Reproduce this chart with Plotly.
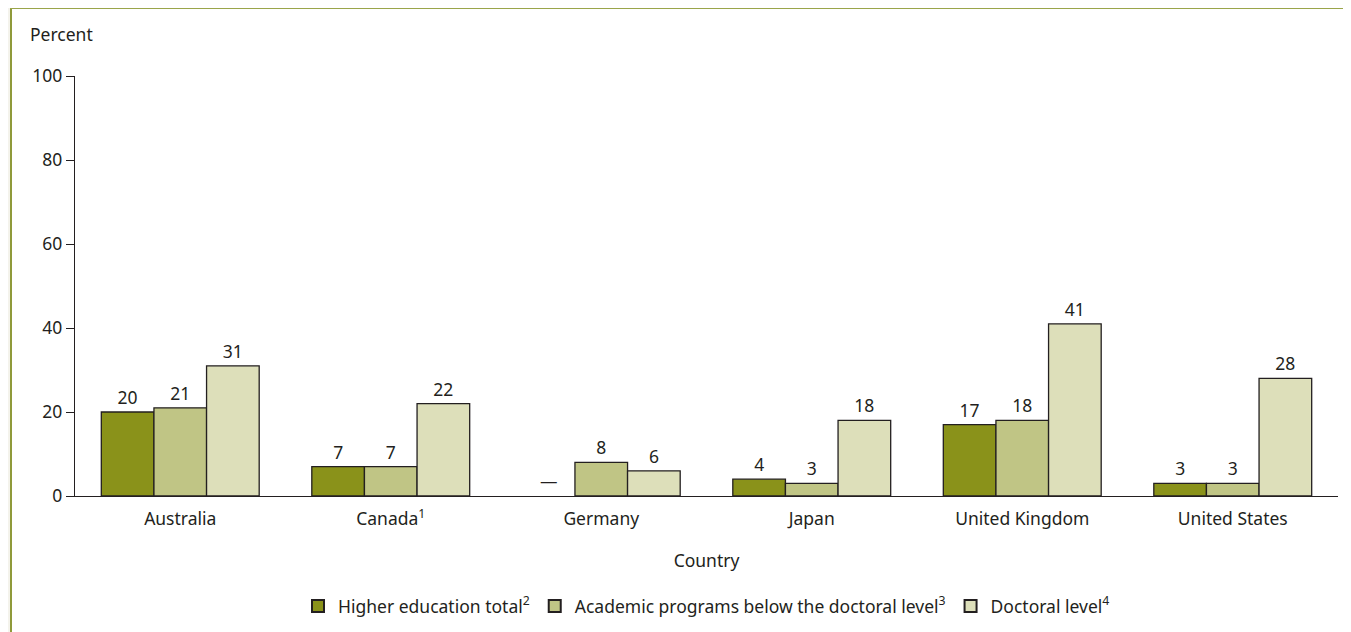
import plotly.graph_objects as go

countries = ["Australia", "Canada<sup>1</sup>", "Germany", "Japan", "United Kingdom", "United States"]
series_names = ["Higher education total<sup>2</sup>",
                "Academic programs below the doctoral level<sup>3</sup>",
                "Doctoral level<sup>4</sup>"]
higher_total = [20, 7, 0, 4, 17, 3]
higher_total_labels = ["20", "7", "—", "4", "17", "3"]
academic_below = [21, 7, 8, 3, 18, 3]
doctoral = [31, 22, 6, 18, 41, 28]
y_ticks = [0, 20, 40, 60, 80, 100]

colors = ["#8a921a", "#c0c585", "#dddfba"]
FONT = "Noto Sans"
TXT = "#231f20"
FS = 17.5

fig = go.Figure()
series = [
    (higher_total, higher_total_labels),
    (academic_below, [str(v) for v in academic_below]),
    (doctoral, [str(v) for v in doctoral]),
]
for i, (vals, labels) in enumerate(series):
    lw = [0 if (v == 0) else 1.3 for v in vals]
    fig.add_trace(go.Bar(
        x=countries, y=vals, name=series_names[i],
        marker=dict(color=colors[i], line=dict(color="#231f20", width=lw)),
        text=labels, textposition="outside", cliponaxis=False,
        textfont=dict(family=FONT, size=FS, color=TXT),
    ))

fig.update_layout(
    width=1343, height=624,
    margin=dict(l=67, r=13, t=68, b=136, autoexpand=False),
    paper_bgcolor="#f4f3ec", plot_bgcolor="white",
    font=dict(family=FONT, size=FS, color=TXT),
    barmode="group", bargap=0.25, bargroupgap=0,
    showlegend=True,
    legend=dict(orientation="h", x=0.5, xanchor="center",
                yref="container", y=1 - (606 - 8) / 624, yanchor="middle",
                font=dict(family=FONT, size=FS, color=TXT), itemsizing="constant",
                traceorder="normal", bgcolor="rgba(0,0,0,0)"),
    xaxis=dict(showline=True, linecolor="#231f20", linewidth=1.3, ticks="",
               tickfont=dict(size=FS), range=[-0.5, 5.5], ticklabelstandoff=7,
               automargin=False,
               title=dict(text="Country", standoff=25, font=dict(size=FS))),
    yaxis=dict(range=[0, 100], tickvals=y_ticks, showline=True, linecolor="#231f20",
               linewidth=1.3, ticks="outside", ticklen=8, tickcolor="#231f20",
               automargin=False,
               showgrid=False, zeroline=False, tickfont=dict(size=FS)),
    shapes=[
        dict(type="rect", xref="paper", yref="paper", x0=(11 - 75) / 1263, x1=1.02,
             y0=(496 - 640) / 420, y1=(496 - 7) / 420, fillcolor="white",
             line=dict(width=0), layer="below"),
        dict(type="line", xref="paper", yref="paper", x0=(11 - 75) / 1263, x1=(11 - 75) / 1263,
             y0=(496 - 640) / 420, y1=(496 - 7) / 420, line=dict(color="#8f9a3a", width=2)),
        dict(type="line", xref="paper", yref="paper", x0=(10 - 75) / 1263, x1=1.02,
             y0=(496 - 8) / 420, y1=(496 - 8) / 420, line=dict(color="#9aa54a", width=2)),
    ],
    annotations=[dict(text="Percent", xref="paper", yref="paper",
                      x=(28 - 75) / 1263, y=(496 - 34) / 420, xanchor="left", yanchor="middle",
                      showarrow=False, font=dict(family=FONT, size=FS, color=TXT))],
)

fig.write_html("out.html")
